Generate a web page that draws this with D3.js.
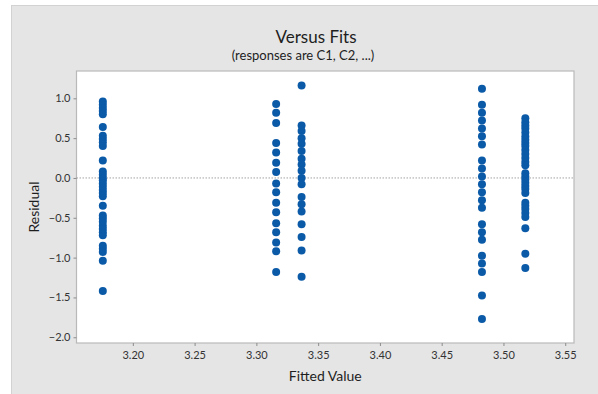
<!DOCTYPE html>
<html>
<head>
<meta charset="utf-8">
<script src="https://cdn.jsdelivr.net/npm/d3@7"></script>
<style>
  html, body { margin: 0; padding: 0; background: #ffffff; }
  svg { display: block; }
  text { font-family: Lato, "Liberation Sans", sans-serif; }
</style>
</head>
<body>
<svg id="chart" width="598" height="394"></svg>
<script>
// Fitted values (group means) and the residuals observed at each one
const fittedValues = [3.1757, 3.3160, 3.3366, 3.4826, 3.5177];

const residualsGroup1 = [0.96, 0.92, 0.88, 0.84, 0.80, 0.64, 0.53, 0.49, 0.45, 0.40, 0.22,
  0.08, 0.04, 0.00, -0.03, -0.07, -0.11, -0.15, -0.19, -0.23, -0.35, -0.47, -0.51, -0.55,
  -0.60, -0.64, -0.68, -0.72, -0.85, -0.89, -0.93, -1.04, -1.42];
const residualsGroup2 = [0.93, 0.82, 0.69, 0.44, 0.32, 0.19, 0.075, -0.07, -0.18, -0.31,
  -0.43, -0.57, -0.68, -0.81, -0.92, -1.18];
const residualsGroup3 = [1.16, 0.66, 0.59, 0.50, 0.43, 0.34, 0.24, 0.17, 0.09, 0.00, -0.08,
  -0.24, -0.33, -0.42, -0.58, -0.74, -0.91, -1.24];
const residualsGroup4 = [1.12, 0.92, 0.82, 0.72, 0.62, 0.525, 0.42, 0.22, 0.12, 0.02, -0.08,
  -0.18, -0.28, -0.375, -0.58, -0.68, -0.775, -0.975, -1.075, -1.18, -1.475, -1.77];
const residualsGroup5 = [0.75, 0.70, 0.66, 0.62, 0.57, 0.52, 0.48, 0.44, 0.40, 0.35, 0.30,
  0.25, 0.20, 0.16, 0.06, 0.02, -0.02, -0.06, -0.10, -0.14, -0.19, -0.31, -0.35, -0.39,
  -0.44, -0.49, -0.63, -0.95, -1.13];

const residualGroups = [residualsGroup1, residualsGroup2, residualsGroup3, residualsGroup4, residualsGroup5];

const xTicks = [3.20, 3.25, 3.30, 3.35, 3.40, 3.45, 3.50, 3.55];
const yTicks = [1.0, 0.5, 0.0, -0.5, -1.0, -1.5, -2.0];

const titleText = "Versus Fits";
const subtitleText = "(responses are C1, C2, ...)";
const xLabel = "Fitted Value";
const yLabel = "Residual";

const points = [];
fittedValues.forEach((fv, i) => {
  residualGroups[i].forEach(r => points.push({ fit: fv, res: r }));
});

const svg = d3.select("#chart");

// Gray outer panel
svg.append("rect")
  .attr("x", 11.5).attr("y", 5.5)
  .attr("width", 590).attr("height", 392)
  .attr("fill", "#e5e5e5")
  .attr("stroke", "#d2d2d2");

const plot = { left: 76.5, right: 574, top: 71, bottom: 343 };

const x = d3.scaleLinear().domain([3.1544, 3.5571]).range([plot.left, plot.right]);
const y = d3.scaleLinear().domain([-2.072, 1.343]).range([plot.bottom, plot.top]);

// Plot area
svg.append("rect")
  .attr("x", plot.left).attr("y", plot.top)
  .attr("width", plot.right - plot.left).attr("height", plot.bottom - plot.top)
  .attr("fill", "#ffffff")
  .attr("stroke", "#b9b9b9")
  .attr("stroke-width", 1.2);

// Axes
const xAxis = d3.axisBottom(x).tickValues(xTicks).tickFormat(d3.format(".2f")).tickSize(3).tickPadding(5);
const yAxis = d3.axisLeft(y).tickValues(yTicks).tickFormat(d3.format(".1f")).tickSize(3).tickPadding(3);

const gx = svg.append("g").attr("transform", `translate(0,${plot.bottom})`).call(xAxis);
const gy = svg.append("g").attr("transform", `translate(${plot.left},0)`).call(yAxis);

[gx, gy].forEach(g => {
  g.select(".domain").remove();
  g.selectAll(".tick line").attr("stroke", "#8c8c8c");
  g.selectAll(".tick text")
    .attr("fill", "#333333")
    .style("font-size", "11px")
    .style("font-family", "Lato, 'Liberation Sans', sans-serif");
});

// Zero reference line
svg.append("line")
  .attr("x1", plot.left).attr("x2", plot.right)
  .attr("y1", y(0)).attr("y2", y(0))
  .attr("stroke", "#8a8a8a")
  .attr("stroke-width", 0.8)
  .attr("stroke-dasharray", "1.5,1.5");

// Residual points
svg.append("g")
  .selectAll("circle")
  .data(points)
  .join("circle")
  .attr("cx", d => x(d.fit))
  .attr("cy", d => y(d.res))
  .attr("r", 4)
  .attr("fill", "#0b5aa8");

// Titles and axis labels
svg.append("text")
  .attr("x", 316).attr("y", 43)
  .attr("text-anchor", "middle")
  .attr("fill", "#1e1e1e")
  .style("font-size", "17px")
  .text(titleText);

svg.append("text")
  .attr("x", 303).attr("y", 60)
  .attr("text-anchor", "middle")
  .attr("fill", "#1e1e1e")
  .style("font-size", "13px")
  .text(subtitleText);

svg.append("text")
  .attr("x", (plot.left + plot.right) / 2).attr("y", 381)
  .attr("text-anchor", "middle")
  .attr("fill", "#1e1e1e")
  .style("font-size", "14px")
  .text(xLabel);

svg.append("text")
  .attr("transform", `translate(39,${(plot.top + plot.bottom) / 2}) rotate(-90)`)
  .attr("text-anchor", "middle")
  .attr("fill", "#1e1e1e")
  .style("font-size", "14px")
  .text(yLabel);
</script>
</body>
</html>
